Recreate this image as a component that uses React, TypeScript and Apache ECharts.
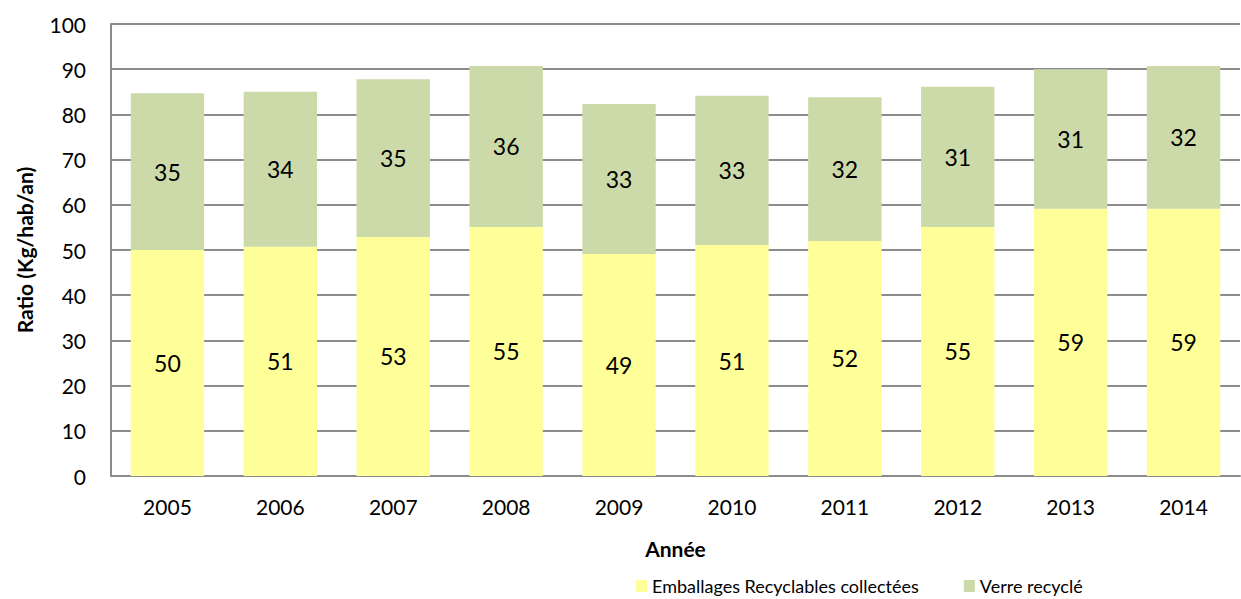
import React, { useEffect, useRef } from "react";
import * as echarts from "echarts";

const years = ["2005", "2006", "2007", "2008", "2009", "2010", "2011", "2012", "2013", "2014"];
const emballages = [50.0, 50.7, 52.9, 55.1, 49.1, 51.1, 52.0, 55.1, 59.1, 59.1];
const verre = [34.7, 34.3, 34.9, 35.6, 33.2, 33.0, 31.8, 31.0, 30.9, 31.6];

const FONT = "Lato, 'Open Sans', sans-serif";

export default function App() {
  const ref = useRef<HTMLDivElement>(null);
  useEffect(() => {
    document.body.style.margin = "0";
    const chart = echarts.init(ref.current!, null, { renderer: "svg" });
    const label = {
      show: true,
      position: "inside",
      color: "#000",
      fontSize: 23,
      fontFamily: FONT,
      formatter: (p: any) => String(Math.round(p.value)),
    };
    chart.setOption({
      animation: false,
      textStyle: { fontFamily: FONT },
      grid: { left: 111, right: 1, top: 24, bottom: 123, containLabel: false },
      legend: {
        left: 631,
        top: 571,
        itemWidth: 11,
        itemHeight: 12,
        itemGap: 45,
        icon: "rect",
        textStyle: { fontSize: 18, lineHeight: 20, color: "#000", fontFamily: FONT },
        data: ["Emballages Recyclables collectées", "Verre recyclé"],
      },
      xAxis: {
        type: "category",
        data: years,
        name: "Année",
        nameLocation: "middle",
        nameGap: 62,
        nameTextStyle: { fontSize: 21, fontWeight: "bold", color: "#000", fontFamily: FONT },
        axisLine: { lineStyle: { color: "#8c8c8c", width: 2 } },
        axisTick: { show: false },
        axisLabel: { fontSize: 21, color: "#000", margin: 20, fontFamily: FONT },
      },
      yAxis: {
        type: "value",
        min: 0,
        max: 100,
        interval: 10,
        name: "Ratio (Kg/hab/an)",
        nameLocation: "middle",
        nameGap: 76,
        nameTextStyle: { fontSize: 21, fontWeight: "bold", color: "#000", fontFamily: FONT },
        axisLine: { show: true, lineStyle: { color: "#8c8c8c", width: 2 } },
        axisTick: { show: false },
        axisLabel: { fontSize: 21, color: "#000", margin: 25, fontFamily: FONT },
        splitLine: { lineStyle: { color: "#8c8c8c", width: 2 } },
      },
      series: [
        {
          name: "Emballages Recyclables collectées",
          type: "bar",
          stack: "total",
          data: emballages,
          barCategoryGap: "35%",
          itemStyle: { color: "#FFFF99" },
          label,
        },
        {
          name: "Verre recyclé",
          type: "bar",
          stack: "total",
          data: verre,
          barCategoryGap: "35%",
          itemStyle: { color: "#CCDAAA" },
          label,
        },
      ],
    });
    return () => chart.dispose();
  }, []);
  return <div ref={ref} style={{ position: "absolute", left: 0, top: 0, width: 1241, height: 599 }} />;
}
